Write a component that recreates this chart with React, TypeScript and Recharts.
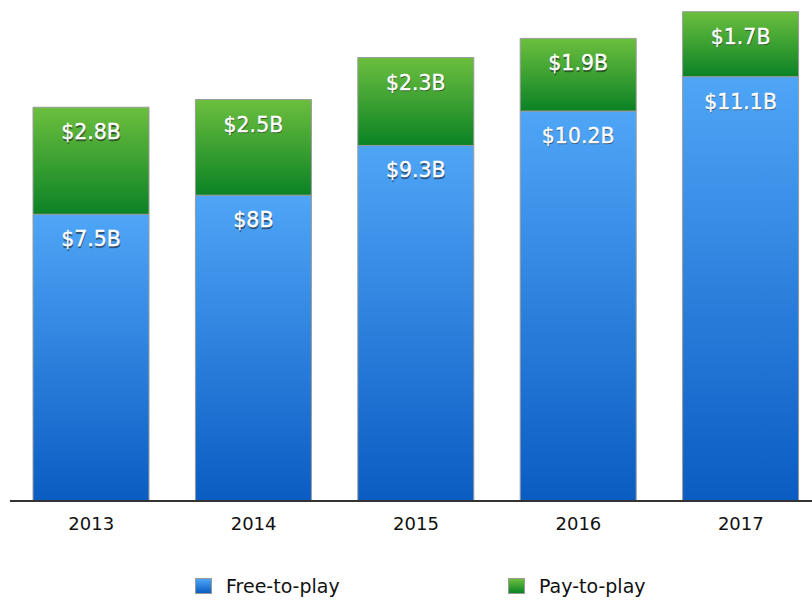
import React from 'react';
import { BarChart, Bar, XAxis, YAxis, LabelList } from 'recharts';

const years = ['2013', '2014', '2015', '2016', '2017'];
const freeToPlay = [7.5, 8, 9.3, 10.2, 11.1];
const payToPlay = [2.8, 2.5, 2.3, 1.9, 1.7];
const seriesNames = ['Free-to-play', 'Pay-to-play'];

const data = years.map((y, i) => ({ year: y, free: freeToPlay[i], pay: payToPlay[i] }));

const FONT = '"DejaVu Sans", sans-serif';

const renderLabel = (props: any) => {
  const { x, y, width, value } = props;
  const cx = Number(x) + Number(width) / 2;
  const by = Number(y) + 32;
  const txt = `$${value}B`;
  return (
    <g>
      <text x={cx + 0.6} y={by + 1.4} textAnchor="middle" fontSize={20.5} fontFamily={FONT} fill="#1a1a1a" fillOpacity={0.55} stroke="#1a1a1a" strokeOpacity={0.4} strokeWidth={0.4}>{txt}</text>
      <text x={cx} y={by} textAnchor="middle" fontSize={20.5} fontFamily={FONT} fill="#ffffff" stroke="#ffffff" strokeWidth={0.35}>{txt}</text>
    </g>
  );
};

const legendItems = [
  { name: seriesNames[0], grad: 'linear-gradient(#4fa6f7, #0a5cc2)', left: 195, textLeft: 226 },
  { name: seriesNames[1], grad: 'linear-gradient(#6cbf3e, #0b8225)', left: 508, textLeft: 539 },
];

export default function App() {
  return (
    <div style={{ position: 'absolute', left: 0, top: 0, width: 812, height: 600, overflow: 'hidden', background: '#fff' }}>
      <BarChart width={830} height={600} data={data} margin={{ top: 4, right: 8, bottom: 0, left: 10 }} barSize={116}>
        <defs>
          <linearGradient id="gBlue" x1="0" y1="0" x2="0" y2="1">
            <stop offset="0%" stopColor="#4fa6f7" />
            <stop offset="100%" stopColor="#0a5cc2" />
          </linearGradient>
          <linearGradient id="gGreen" x1="0" y1="0" x2="0" y2="1">
            <stop offset="0%" stopColor="#6cbf3e" />
            <stop offset="100%" stopColor="#0b8225" />
          </linearGradient>
        </defs>
        <XAxis
          dataKey="year"
          height={99}
          axisLine={{ stroke: '#333', strokeWidth: 2 }}
          tickLine={false}
          tickMargin={10}
          tick={{ fill: '#111', fontSize: 18, fontFamily: FONT }}
        />
        <YAxis hide domain={[0, 13]} />
        <Bar dataKey="free" stackId="a" fill="url(#gBlue)" stroke="#9a9a9a" strokeWidth={1} isAnimationActive={false}>
          <LabelList dataKey="free" content={renderLabel} />
        </Bar>
        <Bar dataKey="pay" stackId="a" fill="url(#gGreen)" stroke="#9a9a9a" strokeWidth={1} isAnimationActive={false}>
          <LabelList dataKey="pay" content={renderLabel} />
        </Bar>
      </BarChart>
      {legendItems.map((it) => (
        <React.Fragment key={it.name}>
          <div style={{ position: 'absolute', left: it.left, top: 578, width: 17, height: 16, background: it.grad, boxSizing: 'border-box', border: '1px solid #9a9a9a' }} />
          <div style={{ position: 'absolute', left: it.textLeft, top: 574, fontSize: 19, fontFamily: FONT, color: '#111', lineHeight: '24px', whiteSpace: 'nowrap' }}>{it.name}</div>
        </React.Fragment>
      ))}
    </div>
  );
}
